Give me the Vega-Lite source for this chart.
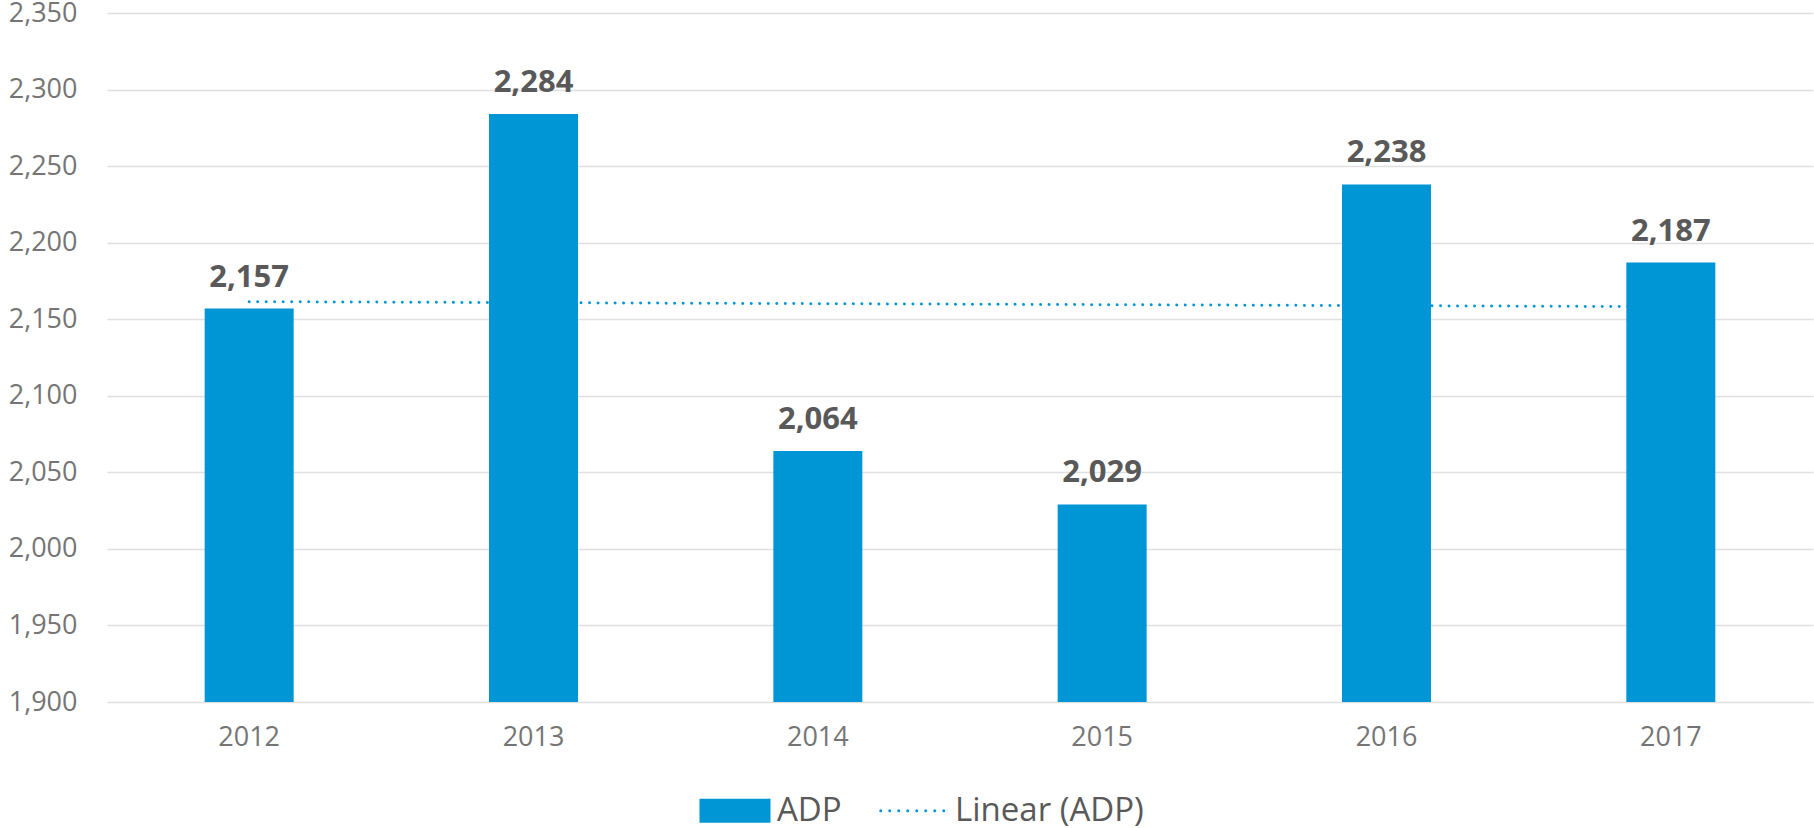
{
  "$schema": "https://vega.github.io/schema/vega-lite/v6.json",
  "width": 1706,
  "height": 689,
  "autosize": {"type": "none"},
  "padding": {"left": 107, "top": 13, "right": 1, "bottom": 126},
  "background": "white",
  "config": {"font": "Open Sans", "view": {"stroke": null}},
  "data": {
    "values": [
      {"year": 2012, "ADP": 2157},
      {"year": 2013, "ADP": 2284},
      {"year": 2014, "ADP": 2064},
      {"year": 2015, "ADP": 2029},
      {"year": 2016, "ADP": 2238},
      {"year": 2017, "ADP": 2187}
    ]
  },
  "encoding": {
    "x": {
      "field": "year",
      "type": "ordinal",
      "scale": {"paddingInner": 0.687, "paddingOuter": 0.3435},
      "axis": {
        "title": null,
        "labelAngle": 0,
        "domain": false,
        "ticks": false,
        "labelFontSize": 27,
        "labelColor": "#757575",
        "labelPadding": 22
      }
    },
    "y": {
      "field": "ADP",
      "type": "quantitative",
      "scale": {"domain": [1900, 2350], "zero": false, "nice": false},
      "axis": {
        "title": null,
        "values": [1900, 1950, 2000, 2050, 2100, 2150, 2200, 2250, 2300, 2350],
        "format": ",.0f",
        "domain": false,
        "ticks": false,
        "labelFontSize": 27,
        "labelColor": "#757575",
        "labelPadding": 30,
        "gridColor": "#E0E0E0",
        "gridWidth": 1.5
      }
    }
  },
  "layer": [
    {
      "transform": [{"regression": "ADP", "on": "year"}],
      "mark": {"type": "line", "strokeWidth": 3, "strokeDash": [0.01, 8.5], "strokeCap": "round"},
      "encoding": {
        "color": {
          "datum": "Linear (ADP)",
          "type": "nominal",
          "scale": {"domain": ["ADP", "Linear (ADP)"], "range": ["#0096D6", "#0096D6"]},
          "legend": {
            "orient": "none",
            "legendX": 592.5,
            "legendY": 762,
            "direction": "horizontal",
            "title": null,
            "padding": 0,
            "labelFontSize": 33,
            "labelColor": "#595959",
            "labelLimit": 500,
            "symbolSize": 4624,
            "symbolStrokeWidth": 3,
            "labelOffset": 6.5,
            "columnPadding": 32,
            "encode": {
              "symbols": {
                "update": {
                  "shape": {"signal": "datum.value === 'ADP' ? 'M-1,-0.31H1V0.31H-1Z' : 'M-0.95,0H0.95'"},
                  "fill": {"signal": "datum.value === 'ADP' ? '#0096D6' : 'transparent'"},
                  "stroke": {"signal": "datum.value === 'ADP' ? 'transparent' : '#0096D6'"},
                  "strokeWidth": {"value": 3},
                  "strokeDash": {"signal": "datum.value === 'ADP' ? [] : [0.01, 9]"},
                  "strokeCap": {"value": "round"}
                }
              }
            }
          }
        }
      }
    },
    {
      "mark": {"type": "bar", "clip": true},
      "encoding": {
        "color": {"datum": "ADP", "type": "nominal"}
      }
    },
    {
      "mark": {
        "type": "text",
        "baseline": "alphabetic",
        "dy": -22,
        "fontSize": 31,
        "fontWeight": "bold",
        "color": "#595959"
      },
      "encoding": {
        "text": {"field": "ADP", "type": "quantitative", "format": ","}
      }
    }
  ]
}
